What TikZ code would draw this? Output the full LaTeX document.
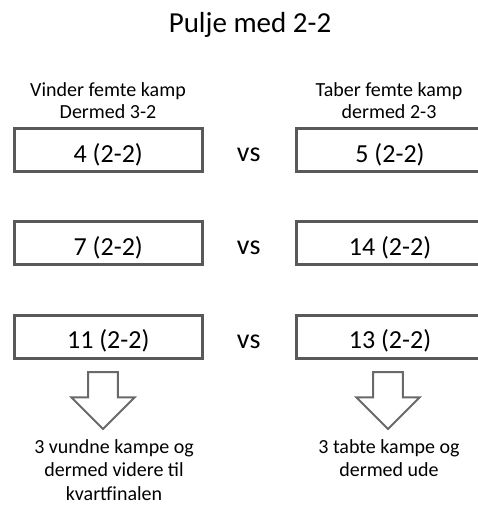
\documentclass[tikz,border=0pt]{standalone}
\usepackage{fontspec}
\setmainfont{Carlito}
\usetikzlibrary{shapes.arrows}
\definecolor{boxgray}{RGB}{89,89,89}
\definecolor{arrowgray}{RGB}{105,105,105}
\tikzset{
  matchbox/.style={draw=boxgray,line width=3pt,minimum width=187.5pt,minimum height=43pt,
    inner sep=0pt,text height=24pt,text depth=0pt,font=\fontsize{26}{30}\selectfont},
  headtext/.style={anchor=base,align=center,font=\fontsize{20}{22}\selectfont},
  foottext/.style={anchor=base,align=center,font=\fontsize{20}{23.5}\selectfont},
  downarrow/.style={single arrow,draw=arrowgray,line width=2pt,fill=white,inner sep=13.85pt,
    minimum height=57pt,single arrow head extend=16.8pt,
    single arrow tip angle=90,shape border rotate=270}
}
\begin{document}
\begin{tikzpicture}[x=1pt,y=-1pt]
  \useasboundingbox (0,0) rectangle (477,506);
  \def \Matches{
    1/150/4/5,
    2/243/7/14,
    3/336.5/11/13}
  \node[anchor=base,font=\fontsize{29}{35}\selectfont] (title) at (250,32) {Pulje med 2-2};
  % base of a multi-line node is the base of its last line
  \node[headtext] (winhead) at (108,118.5) {Vinder femte kamp\\Dermed 3-2};
  \node[headtext] (losehead) at (389,118.5) {Taber femte kamp\\dermed 2-3};
  \foreach \id / \y / \a / \b in \Matches{
    \node[matchbox] (w\id) at (108.25,\y) {\a~(2-2)};
    \node[matchbox] (t\id) at (390,\y) {\b~(2-2)};
    \node[anchor=base,font=\fontsize{28}{32}\selectfont] (vs\id) at (248.7,\y+11.7) {vs};
  }
  \node[downarrow,anchor=tail] (wdown) at (103,371) {};
  \node[downarrow,anchor=tail] (tdown) at (388,371) {};
  \node[foottext] (winfoot) at (114,500) {3 vundne kampe og\\dermed videre til\\kvartfinalen};
  \node[foottext] (losefoot) at (389,476.5) {3 tabte kampe og\\dermed ude};
\end{tikzpicture}
\end{document}
